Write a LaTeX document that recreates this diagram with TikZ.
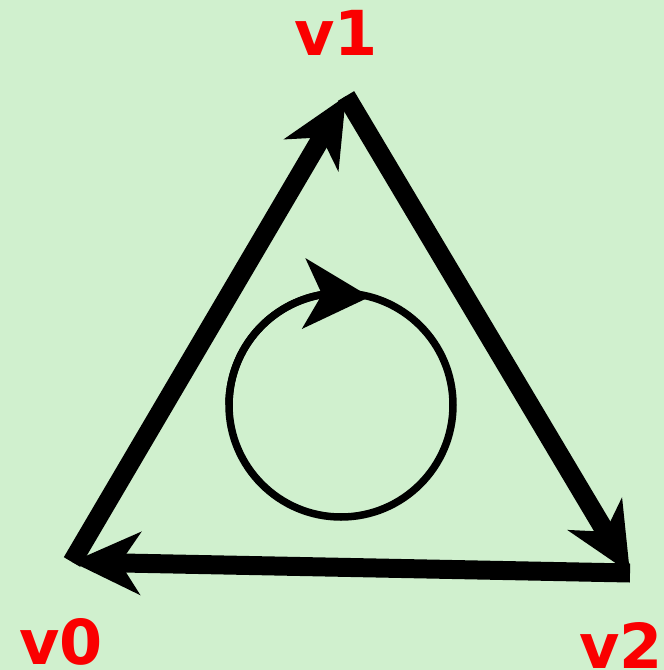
\documentclass[tikz,border=0pt]{standalone}
\usepackage{fontspec}
\setsansfont{DejaVu Sans}
\usepackage{xcolor}
\usetikzlibrary{arrows.meta,bending,positioning,calc}
\definecolor{paper}{RGB}{208,240,206}
\definecolor{vred}{RGB}{250,0,0}
\tikzset{
  edgearr/.style={-{Stealth[length=68pt, width=62pt, inset=20pt]}, line width=19pt, line cap=butt},
  looparr/.style={-{Stealth[length=66pt, width=70pt, inset=18pt, flex]}, line width=7.5pt},
  vlabel/.style={text=vred, font=\fontsize{62}{62}\selectfont\sffamily\bfseries, inner sep=0pt},
}

\begin{document}
\begin{tikzpicture}[x=1pt, y=-1pt]
  \fill[paper] (0,0) rectangle (664,670);
  \useasboundingbox (0,0) rectangle (664,670);

  \coordinate (v0) at (72,562);
  \coordinate (v1) at (346,96);
  \coordinate (v2) at (630,573);
  \coordinate (c) at (341,405);

  \node[vlabel] (l1) at (336,33) {v1};
  \node[vlabel] (l0) at (61,642) {v0};
  \node[vlabel] (l2) at (621,645) {v2};

  % triangle edges
  \draw[edgearr] (v0) -- (v1);
  \draw[edgearr] (v1) -- (v2);
  \draw[edgearr] (v2) -- (v0);

  % turning direction
  \draw[line width=7.5pt] (c) circle[radius=112];
  \draw[looparr] ($(c)+(-112,0)$) arc[start angle=-180, end angle=-75, radius=112];
\end{tikzpicture}
\end{document}
